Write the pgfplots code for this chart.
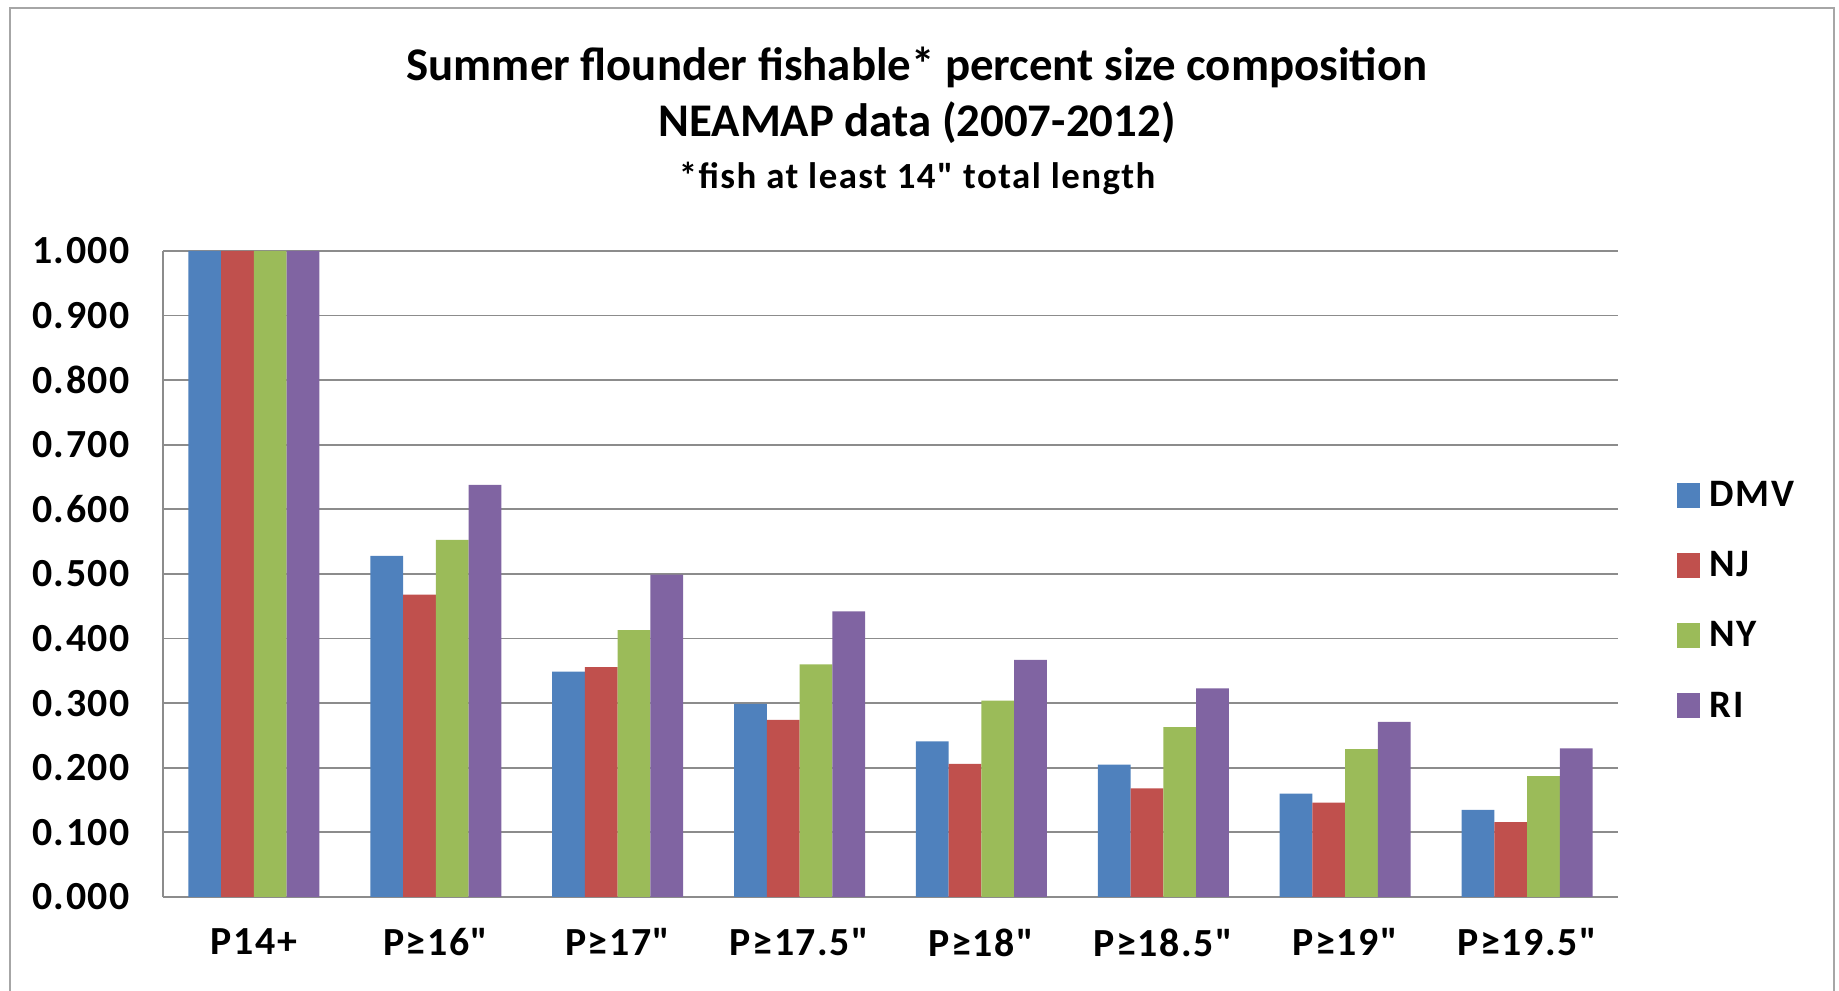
\documentclass[border=0pt]{standalone}
\usepackage{pgfplots}
\usepackage{pgfplotstable}
\pgfplotsset{compat=1.18}
\usepackage{fontspec}
\setmainfont{Carlito}[Ligatures=TeXOff]
\newfontfamily\spfont{Carlito}[Ligatures=TeXOff, LetterSpace=4]
\definecolor{cDMV}{HTML}{4F81BD}
\definecolor{cNJ}{HTML}{C0504D}
\definecolor{cNY}{HTML}{9BBB59}
\definecolor{cRI}{HTML}{8064A2}
\definecolor{gridc}{HTML}{8C8C8C}
\pgfplotstableread{
x DMV NJ NY RI
0 1.000 1.000 1.000 1.000
1 0.528 0.468 0.553 0.638
2 0.349 0.356 0.413 0.499
3 0.299 0.274 0.360 0.442
4 0.241 0.206 0.304 0.367
5 0.205 0.168 0.263 0.323
6 0.160 0.146 0.229 0.271
7 0.135 0.116 0.187 0.230
}\datatable
\begin{document}
\begin{tikzpicture}
\path[use as bounding box] (0,0) rectangle (919.5bp,495.5bp);
\draw[gray!70, line width=1bp] (5bp,-2bp) -- (5bp,491.5bp) -- (917bp,491.5bp) -- (917bp,-2bp);
\node[font=\bfseries\fontsize{23.5}{28}\selectfont] at (458.5bp,462bp) {Summer flounder fishable* percent size composition};
\node[font=\bfseries\fontsize{23.5}{28}\selectfont] at (458.5bp,434bp) {NEAMAP data (2007-2012)};
\node[font=\spfont\bfseries\fontsize{18.5}{22}\selectfont] at (458.5bp,406.5bp) {*fish at least 14" total length};
\begin{axis}[
  at={(81.5bp,47bp)}, anchor=south west,
  scale only axis, width=727.5bp, height=323bp,
  xmin=-0.5, xmax=7.5, ymin=0, ymax=1,
  ybar, bar width=0.18,
  xtick={0,...,7},
  xticklabels={P14+, P≥16", P≥17", P≥17.5", P≥18", P≥18.5", P≥19", P≥19.5"},
  ytick={0,0.1,...,1.0},
  /pgf/number format/assume math mode=true,
  yticklabel={\pgfmathprintnumber[fixed,fixed zerofill,precision=3]{\tick}},
  ticklabel style={font=\spfont\bfseries\fontsize{20}{24}\selectfont},
  every y tick label/.append style={xshift=-13bp},
  every x tick label/.append style={yshift=-8bp},
  tick style={draw=none},
  ymajorgrids, grid style={gridc, line width=0.9bp},
  axis x line*=bottom, axis y line*=left,
  axis line style={gridc, line width=0.9bp, -},
  legend style={at={(1.040,0.650)}, anchor=north west, draw=none, fill=none,
    font=\spfont\bfseries\fontsize{19.5}{23}\selectfont, row sep=17bp, inner sep=0pt,
    cells={anchor=west}},
  legend image code/.code={\fill[#1] (0bp,-6bp) rectangle (11.5bp,6.5bp);},
  legend cell align=left,
]
\addplot[fill=cDMV, draw=none, bar shift=-0.27] table[x=x, y=DMV] {\datatable};
\addplot[fill=cNJ, draw=none, bar shift=-0.09] table[x=x, y=NJ] {\datatable};
\addplot[fill=cNY, draw=none, bar shift=0.09] table[x=x, y=NY] {\datatable};
\addplot[fill=cRI, draw=none, bar shift=0.27] table[x=x, y=RI] {\datatable};
\legend{\hspace{3bp}DMV, \hspace{3bp}NJ, \hspace{3bp}NY, \hspace{3bp}RI}
\end{axis}
\end{tikzpicture}
\end{document}
